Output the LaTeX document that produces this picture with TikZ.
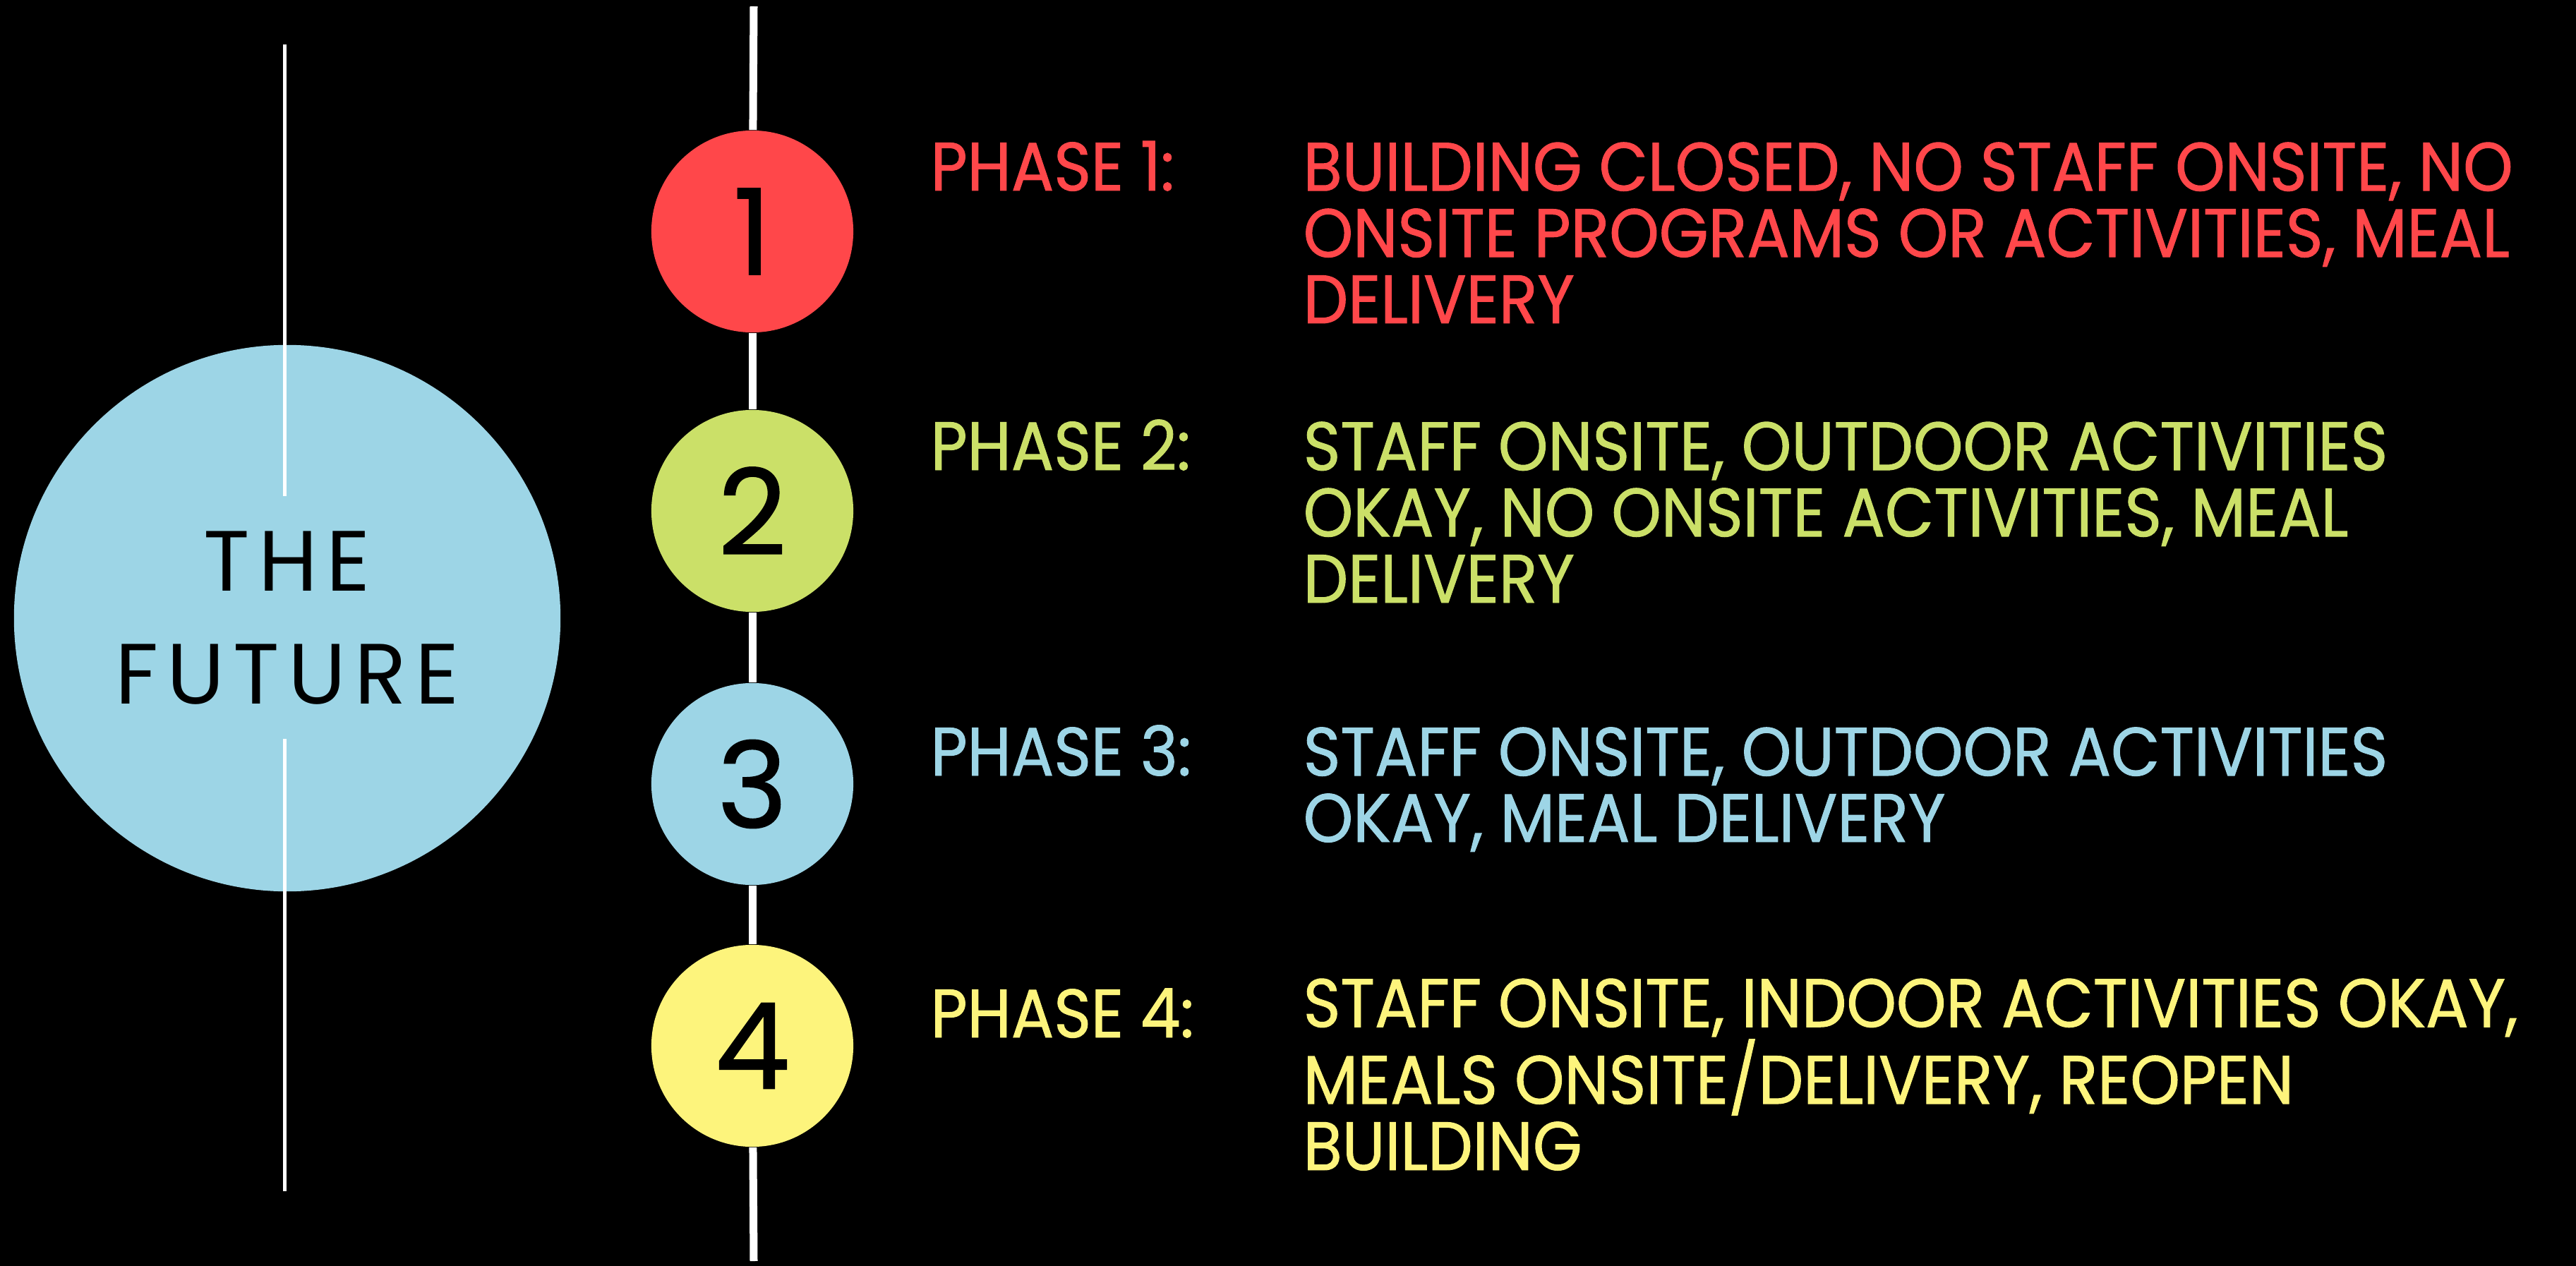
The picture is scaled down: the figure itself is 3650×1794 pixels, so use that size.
\documentclass[tikz,border=0pt]{standalone}
\usepackage{fontspec}
\setmainfont{Poppins}
\newfontfamily\phasefont[FakeStretch=0.925, FakeBold=1]{Poppins}
\newfontfamily\numberfont[FakeBold=1]{Poppins}
\newfontfamily\titlefont[LetterSpace=10]{Poppins}
\usepackage{tikz}
\usetikzlibrary{positioning}
\definecolor{phasered}{HTML}{FF474A}
\definecolor{phasegreen}{HTML}{CBE068}
\definecolor{phaseblue}{HTML}{9DD5E6}
\definecolor{phaseyellow}{HTML}{FDF47C}
\tikzstyle{phasecircle} = [circle, inner sep=0pt, minimum size=2.86cm, text=black,
font=\numberfont\fontsize{48}{48}\selectfont]
\tikzstyle{phaselabel} = [anchor=base west, inner sep=0pt, font=\phasefont\fontsize{27.6}{26.7}\selectfont]
\tikzstyle{phasetext} = [anchor=base west, inner sep=0pt, align=left, font=\phasefont\fontsize{27.6}{26.7}\selectfont]
\tikzstyle{spine} = [draw=white, line width=0.11cm]
\tikzstyle{thinline} = [draw=white, line width=0.05cm]

\begin{document}
\begin{tikzpicture}[x=0.01cm, y=-0.01cm]
    % background
    \fill[black] (0,0) rectangle (3650,1794);

    % big circle
    \node [circle, fill=phaseblue, inner sep=0pt, minimum size=7.74cm, align=center,
      font=\titlefont\fontsize{34.5}{45.5}\selectfont] (future) at (407,876) {THE\\FUTURE};
    \coordinate (ltop) at (403,63);
    \coordinate (lgapa) at (403,703);
    \coordinate (lgapb) at (403,1047);
    \coordinate (lbot) at (403,1688);
    \draw[thinline] (ltop) -- (lgapa);
    \draw[thinline] (lgapb) -- (lbot);

    % timeline
    \coordinate (top) at (1068,9);
    \coordinate (bottom) at (1068,1787);
    \node [phasecircle, fill=phasered] (c1) at (1066,328) {1};
    \node [phasecircle, fill=phasegreen] (c2) at (1066,724) {2};
    \node [phasecircle, fill=phaseblue] (c3) at (1066,1111) {3};
    \node [phasecircle, fill=phaseyellow] (c4) at (1066,1482) {4};
    \draw[spine] (top) -- (c1);
    \draw[spine] (c1) -- (c2);
    \draw[spine] (c2) -- (c3);
    \draw[spine] (c3) -- (c4);
    \draw[spine] (c4) -- (bottom);

    % phases (text nodes sit on their last baseline)
    \node [phaselabel, text=phasered] (label1) at (1318,270) {PHASE 1:};
    \node [phasetext, text=phasered] (text1) at (1846,458)
      {BUILDING CLOSED, NO STAFF ONSITE, NO\\ONSITE PROGRAMS OR ACTIVITIES, MEAL\\DELIVERY};
    \node [phaselabel, text=phasegreen] (label2) at (1318,666) {PHASE 2:};
    \node [phasetext, text=phasegreen] (text2) at (1846,854)
      {STAFF ONSITE, OUTDOOR ACTIVITIES\\OKAY, NO ONSITE ACTIVITIES, MEAL\\DELIVERY};
    \node [phaselabel, text=phaseblue] (label3) at (1318,1099) {PHASE 3:};
    \node [phasetext, text=phaseblue] (text3) at (1846,1193)
      {STAFF ONSITE, OUTDOOR ACTIVITIES\\OKAY, MEAL DELIVERY};
    \node [phaselabel, text=phaseyellow] (label4) at (1318,1470) {PHASE 4:};
    \node [phasetext, text=phaseyellow] (text4) at (1846,1658)
      {STAFF ONSITE, INDOOR ACTIVITIES OKAY,\\MEALS ONSITE/DELIVERY, REOPEN\\BUILDING};

\end{tikzpicture}
\end{document}
